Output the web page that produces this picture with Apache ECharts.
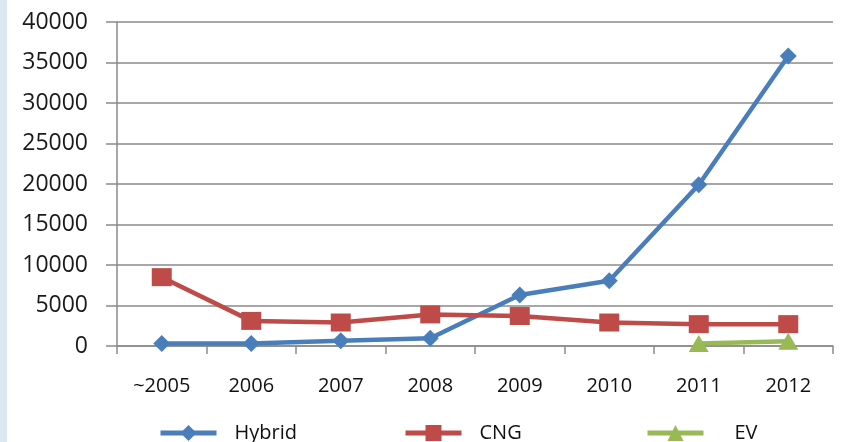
<!DOCTYPE html>
<html>
<head>
<meta charset="utf-8">
<script src="https://cdn.jsdelivr.net/npm/echarts@6/dist/echarts.min.js"></script>
<style>
  html, body { margin: 0; padding: 0; background: #ffffff; }
  #chart { width: 841px; height: 442px; }
</style>
</head>
<body>
<div id="chart"></div>
<script>
// Vehicle counts by year and powertrain
const categories = ['~2005', '2006', '2007', '2008', '2009', '2010', '2011', '2012'];
const hybrid = [300, 300, 650, 950, 6300, 8050, 19900, 35800];
const cng = [8500, 3100, 2900, 3900, 3700, 2900, 2700, 2700];
const ev = [null, null, null, null, null, null, 300, 600];
const yTicks = [0, 5000, 10000, 15000, 20000, 25000, 30000, 35000, 40000];

const chart = echarts.init(document.getElementById('chart'));
const font = '"Open Sans", "Noto Sans", sans-serif';
const axisGray = '#8a8a8a';
const colors = { Hybrid: '#4a7ebb', CNG: '#be4b48', EV: '#98b954' };

// one legend block per series so each entry sits at its own spot
function legendBlock(name, left, gap) {
  return {
    top: 423,
    left: left,
    padding: 0,
    itemWidth: 56,
    itemHeight: 20,
    lineStyle: { width: 5 },
    textStyle: { color: '#111', fontSize: 20, fontFamily: font, padding: [0, 0, 0, gap] },
    data: [name]
  };
}

chart.setOption({
  animation: false,
  backgroundColor: '#ffffff',
  graphic: [{
    type: 'rect',
    shape: { x: 0, y: 0, width: 7, height: 442 },
    style: { fill: '#dde7f1' }
  }],
  grid: { left: 117, right: 8, top: 22, bottom: 96 },
  xAxis: {
    type: 'category',
    data: categories,
    boundaryGap: true,
    axisLine: { lineStyle: { color: axisGray, width: 1.5 } },
    axisTick: { show: true, length: 8, lineStyle: { color: axisGray, width: 1.5 } },
    axisLabel: { color: '#111', fontSize: 20, fontFamily: font, margin: 30 },
    splitLine: { show: false }
  },
  yAxis: {
    type: 'value',
    min: yTicks[0],
    max: yTicks[yTicks.length - 1],
    interval: yTicks[1] - yTicks[0],
    axisLine: { show: true, lineStyle: { color: axisGray, width: 1.5 } },
    axisTick: { show: true, length: 11, lineStyle: { color: axisGray, width: 1.5 } },
    axisLabel: {
      color: '#1a1a1a', fontSize: 23, fontFamily: font, margin: 29,
      formatter: v => String(v)
    },
    splitLine: { lineStyle: { color: axisGray, width: 1.5 } }
  },
  legend: [
    legendBlock('Hybrid', 158, 13),
    legendBlock('CNG', 403, 13),
    legendBlock('EV', 645, 26)
  ],
  series: [
    {
      name: 'Hybrid',
      type: 'line',
      data: hybrid,
      symbol: 'diamond',
      symbolSize: [17, 17],
      lineStyle: { color: colors.Hybrid, width: 4.5 },
      itemStyle: { color: colors.Hybrid }
    },
    {
      name: 'CNG',
      type: 'line',
      data: cng,
      symbol: 'rect',
      symbolSize: [20, 18],
      lineStyle: { color: colors.CNG, width: 4.5 },
      itemStyle: { color: colors.CNG }
    },
    {
      name: 'EV',
      type: 'line',
      data: ev,
      symbol: 'triangle',
      symbolSize: [20, 17],
      lineStyle: { color: colors.EV, width: 4.5 },
      itemStyle: { color: colors.EV }
    }
  ]
});
</script>
</body>
</html>
